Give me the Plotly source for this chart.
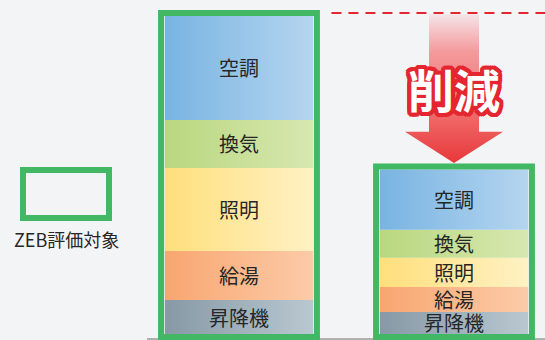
import numpy as np
import plotly.graph_objects as go

# energy use by end-use (arbitrary units), before / after ZEB measures
categories = ['昇降機', '給湯', '照明', '換気', '空調']
before = [10.6, 15.3, 26.0, 15.0, 32.5]
after = [6.9, 7.8, 9.1, 8.8, 18.8]
bar_positions = [1, 2]
stacks = [before, after]

# gradient pairs (left -> right) for each category
colors = {
    '昇降機': ('#8799a6', '#b9c8d0'),
    '給湯': ('#f8a670', '#fccba8'),
    '照明': ('#ffdf7c', '#fff1c4'),
    '換気': ('#b9d77f', '#d7e8b0'),
    '空調': ('#78b4e2', '#b5d5ef'),
}

GREEN = '#42b865'
RED = '#e3262f'
FONT = 'Noto Sans CJK JP'
bar_w = 0.69

fig = go.Figure()
annotations = []
shapes = []

for pos, values in zip(bar_positions, stacks):
    x0, x1 = pos - bar_w / 2, pos + bar_w / 2
    base = 0.0
    for cat, v in zip(categories, values):
        top = base + v
        c0, c1 = colors[cat]
        fig.add_trace(go.Scatter(
            x=[x0, x1, x1, x0, x0],
            y=[base, base, top, top, base],
            mode='lines',
            fill='toself',
            fillgradient=dict(type='horizontal', colorscale=[[0, c0], [1, c1]]),
            line=dict(width=0),
            hoverinfo='skip',
            showlegend=False,
        ))
        annotations.append(dict(
            x=pos, y=base + v / 2, text=cat, showarrow=False,
            font=dict(family=FONT, size=20, color='#262626'),
            xanchor='center', yanchor='middle',
        ))
        base = top
    # green "ZEB評価対象" frame around the stack
    pad_x, pad_y = 0.0175, 0.95
    shapes.append(dict(
        type='rect', xref='x', yref='y',
        x0=x0 - pad_x, x1=x1 + pad_x, y0=-pad_y, y1=base + pad_y,
        line=dict(color=GREEN, width=6), layer='above',
    ))

total_before = sum(before)
total_after = sum(after)

# baseline
shapes.append(dict(type='line', xref='paper', yref='y', x0=147 / 545, x1=1,
                   y0=-1.6, y1=-1.6, line=dict(color='#9a9a9a', width=1.5), layer='below'))

# dashed reference line at the "before" level
shapes.append(dict(type='line', xref='x', yref='y', x0=1.43, x1=2.45,
                   y0=total_before + 0.9, y1=total_before + 0.9,
                   line=dict(color=RED, width=2, dash='10px,7px')))

# reduction arrow
ax = bar_positions[1]
sw, hw = 0.1163, 0.228
tip = total_after + 2.0
head = tip + 9.8
shaft_top = total_before + 0.5
fig.add_trace(go.Scatter(
    x=[ax - sw, ax + sw, ax + sw, ax + hw, ax, ax - hw, ax - sw, ax - sw],
    y=[shaft_top, shaft_top, head, head, tip, head, head, shaft_top],
    mode='lines', fill='toself',
    fillgradient=dict(type='vertical',
                      colorscale=[[0, '#e8383a'], [0.3, '#f06666'], [0.75, '#f59a9c'], [1, '#f5e4e8']]),
    line=dict(width=0), hoverinfo='skip', showlegend=False,
))

outline = ', '.join(f'{dx}px {dy}px 0 {RED}' for dx, dy in
                    [(4, 0), (-4, 0), (0, 4), (0, -4), (3, 3), (-3, 3), (3, -3), (-3, -3),
                     (2, 0), (-2, 0), (0, 2), (0, -2), (4, 2), (-4, 2), (4, -2), (-4, -2),
                     (2, 4), (-2, 4), (2, -4), (-2, -4)])
annotations.append(dict(
    x=ax, y=76.9, text='<b>削減</b>', showarrow=False,
    font=dict(family=FONT, size=46, color='white', shadow=outline),
    xanchor='center', yanchor='middle',
))

# legend
shapes.append(dict(type='rect', xref='paper', yref='paper',
                   x0=23 / 545, x1=109 / 545, y0=1 - 218 / 340, y1=1 - 170 / 340,
                   line=dict(color=GREEN, width=6)))
annotations.append(dict(
    xref='paper', yref='paper', x=66 / 545, y=1 - 239 / 340, text='ZEB評価対象',
    showarrow=False, font=dict(family=FONT, size=18, color='#262626'),
    xanchor='center', yanchor='middle',
))

fig.update_layout(
    width=545, height=340,
    margin=dict(l=0, r=0, t=0, b=0),
    paper_bgcolor='#f3f4f6', plot_bgcolor='#f3f4f6',
    xaxis=dict(range=[1 - 239 / 215, 1 + 306 / 215], visible=False, fixedrange=True),
    yaxis=dict(range=[-6 / 3.2, 334 / 3.2], visible=False, fixedrange=True),
    shapes=shapes, annotations=annotations,
    showlegend=False,
)

fig.write_html('out.html', config={'displayModeBar': False},
               post_script="document.body.style.margin='0';document.body.style.overflow='hidden';")
